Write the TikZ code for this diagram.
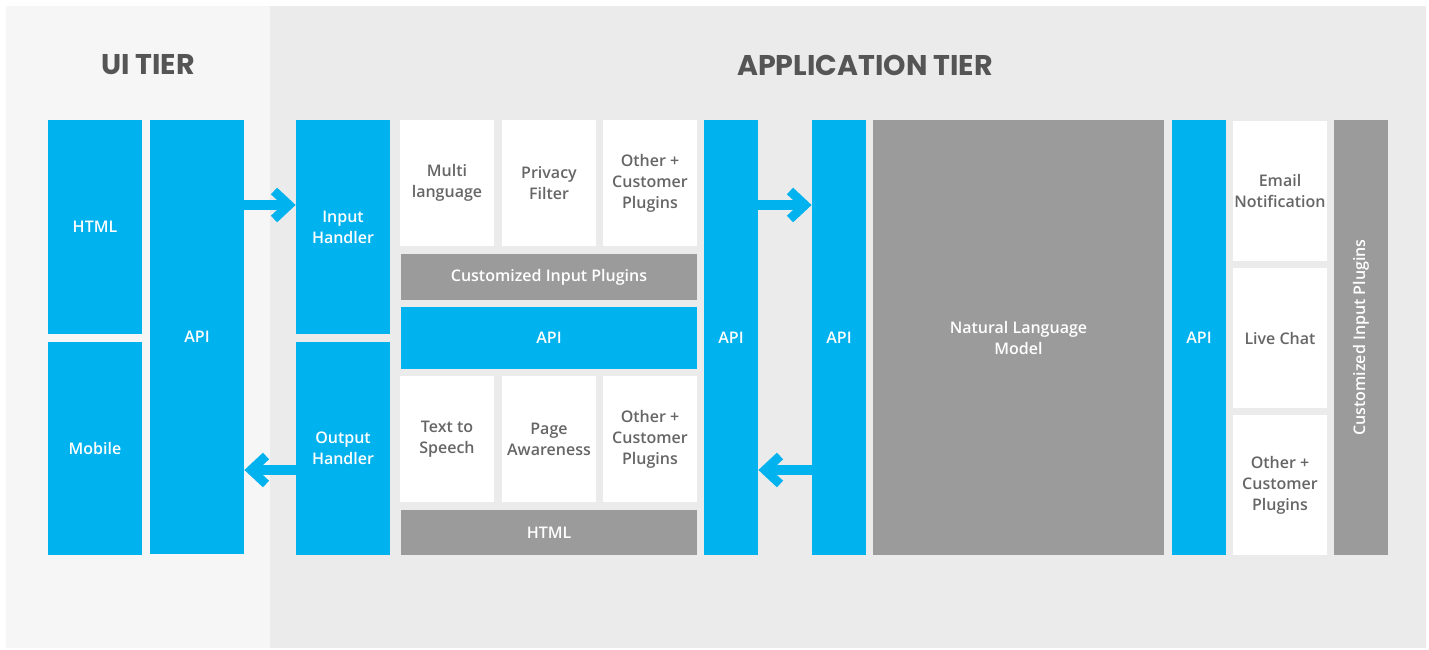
\documentclass[tikz,border=0pt]{standalone}
\usepackage{fontspec}
\IfFontExistsTF{Open Sans Semibold}
  {\setmainfont{Open Sans}[BoldFont={Open Sans Semibold}]}
  {\IfFontExistsTF{Open Sans SemiBold:style=SemiBold}
    {\setmainfont{Open Sans}[BoldFont={Open Sans SemiBold:style=SemiBold}]}
    {\setmainfont{Open Sans}}}
\newfontfamily\titlefont{Poppins}
\usetikzlibrary{calc}
\definecolor{cblue}{RGB}{0,178,238}
\definecolor{cgray}{RGB}{155,155,155}
\definecolor{ctext}{RGB}{102,102,102}
\definecolor{ctitle}{RGB}{85,85,85}
\definecolor{uibg}{RGB}{246,246,246}
\definecolor{appbg}{RGB}{235,235,235}
\begin{document}
\begin{tikzpicture}[x=1pt,y=-1pt,
  box/.style={anchor=north west, inner sep=0pt, outer sep=0pt, align=center,
    font=\bfseries\fontsize{16}{21}\selectfont},
  bbox/.style={box, fill=cblue, text=white},
  gbox/.style={box, fill=cgray, text=white},
  wbox/.style={box, fill=white, text=ctext},
  title/.style={font=\titlefont\bfseries\fontsize{28.5}{32}\selectfont, text=ctitle},
  arr/.style={cblue, line width=10pt},
  chev/.style={cblue, line width=9pt, line join=miter}]
\useasboundingbox (0,0) rectangle (1429,649);
\fill[uibg] (6,6) rectangle (270,648);
\fill[appbg] (270,6) rectangle (1426,648);

\node[title] (t1) at (148,65) {UI TIER};
\node[title] (t2) at (865,65) {APPLICATION TIER};

% UI tier
\node[bbox, minimum width=94pt, minimum height=214pt] (html) at (48,120) {HTML};
\node[bbox, minimum width=94pt, minimum height=213pt] (mobile) at (48,342) {Mobile};
\node[bbox, minimum width=94pt, minimum height=434pt] (uiapi) at (150,120) {API};

% handlers
\node[bbox, minimum width=94pt, minimum height=214pt] (inh) at (296,120) {Input\\Handler};
\node[bbox, minimum width=94pt, minimum height=213pt] (outh) at (296,342) {Output\\Handler};

% plugins
\node[wbox, minimum width=94pt, minimum height=126pt] (ml) at (400,120) {Multi\\language};
\node[wbox, minimum width=94pt, minimum height=126pt] (pf) at (502,120) {Privacy\\Filter};
\node[wbox, minimum width=94pt, minimum height=126pt] (oc1) at (603,120) {Other +\\Customer\\Plugins};
\node[gbox, minimum width=296pt, minimum height=46pt] (cip) at (401,254) {Customized Input Plugins};
\node[bbox, minimum width=296pt, minimum height=62pt] (api2) at (401,307) {API};
\node[wbox, minimum width=94pt, minimum height=126pt] (tts) at (400,376) {Text to\\Speech};
\node[wbox, minimum width=94pt, minimum height=126pt] (pa) at (502,376) {Page\\Awareness};
\node[wbox, minimum width=94pt, minimum height=126pt] (oc2) at (603,376) {Other +\\Customer\\Plugins};
\node[gbox, minimum width=296pt, minimum height=45pt] (html2) at (401,510) {HTML};

% APIs and model
\node[bbox, minimum width=54pt, minimum height=435pt] (api3) at (704,120) {API};
\node[bbox, minimum width=54pt, minimum height=435pt] (api4) at (812,120) {API};
\node[gbox, minimum width=291pt, minimum height=435pt] (nlm) at (873,120) {Natural Language\\Model};
\node[bbox, minimum width=54pt, minimum height=435pt] (api5) at (1172,120) {API};

% right plugins
\node[wbox, minimum width=94pt, minimum height=140pt] (email) at (1233,121) {Email\\Notification};
\node[wbox, minimum width=94pt, minimum height=140pt] (live) at (1233,268) {Live Chat};
\node[wbox, minimum width=94pt, minimum height=140pt] (oc3) at (1233,415) {Other +\\Customer\\Plugins};
\node[gbox, minimum width=54pt, minimum height=435pt] (cipv) at (1334,120) {};
\node[font=\bfseries\fontsize{16}{21}\selectfont, text=white, rotate=90] (cipvt) at (cipv.center) {Customized Input Plugins};

% arrows
\coordinate (ya) at (0,205);
\coordinate (yb) at (0,470);
% right-pointing
\coordinate (v1) at ($(inh.west |- ya)+(-7,0)$);
\draw[arr] (uiapi.east |- ya) -- (v1);
\draw[chev] ($(v1)+(-15,-14)$) -- (v1) -- ($(v1)+(-15,14)$);
\coordinate (v3) at ($(api4.west |- ya)+(-7,0)$);
\draw[arr] (api3.east |- ya) -- (v3);
\draw[chev] ($(v3)+(-15,-14)$) -- (v3) -- ($(v3)+(-15,14)$);
% left-pointing
\coordinate (v2) at ($(uiapi.east |- yb)+(7,0)$);
\draw[arr] (outh.west |- yb) -- (v2);
\draw[chev] ($(v2)+(15,-14)$) -- (v2) -- ($(v2)+(15,14)$);
\coordinate (v4) at ($(api3.east |- yb)+(7,0)$);
\draw[arr] (api4.west |- yb) -- (v4);
\draw[chev] ($(v4)+(15,-14)$) -- (v4) -- ($(v4)+(15,14)$);
\end{tikzpicture}
\end{document}
